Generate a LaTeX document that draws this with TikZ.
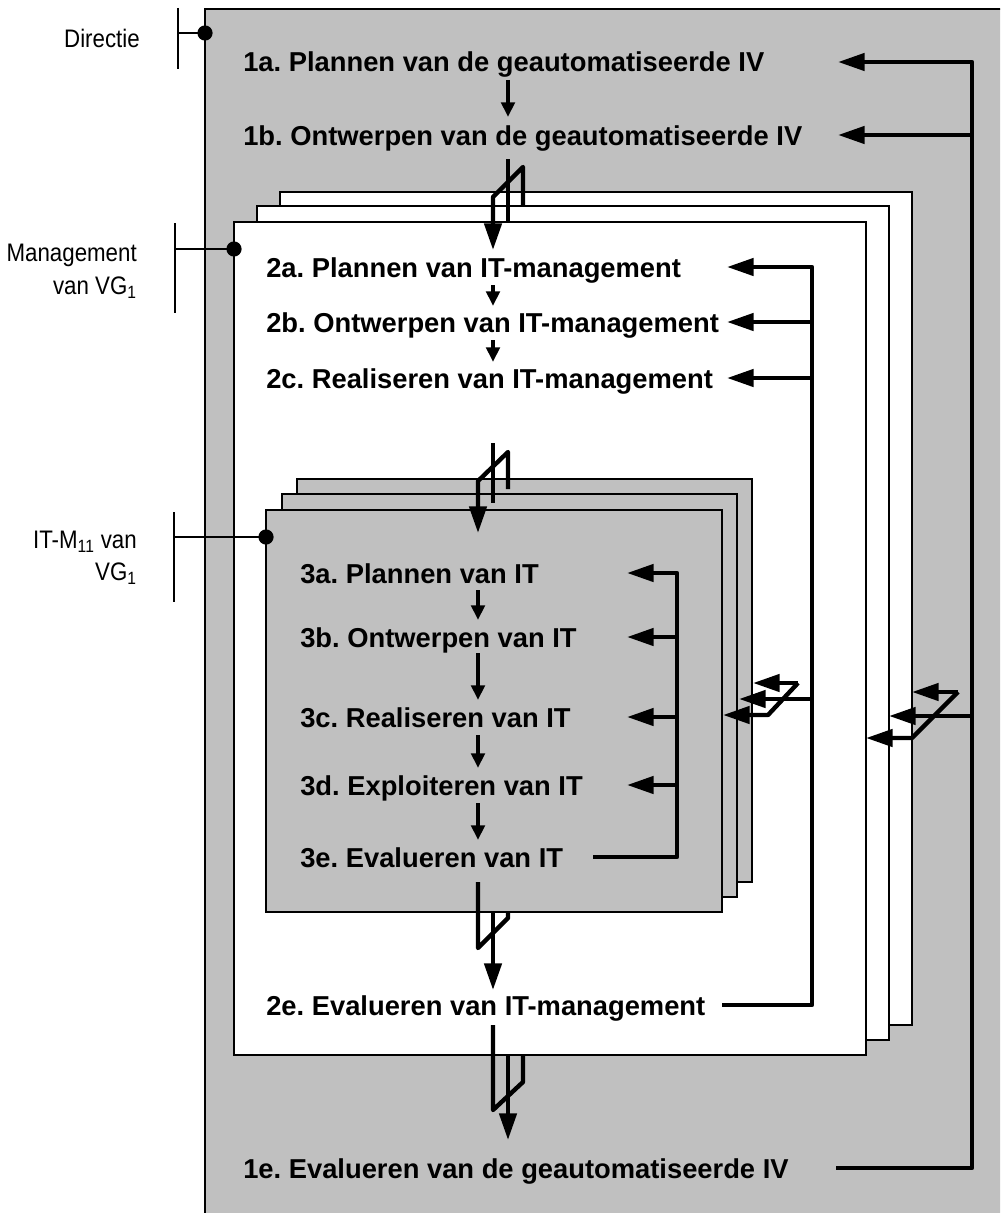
\documentclass[tikz,border=0pt]{standalone}
\usepackage{fontspec}
\setmainfont{Liberation Sans}
\newfontfamily\labelfont[FakeStretch=0.88]{Liberation Sans}
\usetikzlibrary{arrows.meta}
\definecolor{panel}{RGB}{192,192,192}
\tikzset{
  bigtip/.style={-{Triangle[length=20pt,width=12.8pt]}},
  smalltip/.style={-{Triangle[length=11pt,width=10pt]}},
  flow/.style={line width=3.3pt, line join=round, draw=black},
  frame/.style={line width=1.1pt, draw=black},
  bracket/.style={line width=1.2pt, draw=black},
  lbl/.style={font=\labelfont\fontsize{19}{22}\selectfont, anchor=base east, inner sep=0pt, align=right},
  stepA/.style={font=\bfseries\fontsize{20.5}{24}\selectfont, anchor=base west, inner sep=0pt},
}
\begin{document}
\frenchspacing
\begin{tikzpicture}[x=0.75pt,y=-0.75pt]
\clip (0,0) rectangle (1000,1213);
\useasboundingbox (0,0) rectangle (1000,1213);
% outer panel
\filldraw[frame, fill=panel] (205,9) rectangle (1020,1230);
% white stack
\filldraw[frame, fill=white] (280,192) rectangle (912,1025);
\filldraw[frame, fill=white] (257,206) rectangle (889,1040);
\filldraw[frame, fill=white] (234,222) rectangle (866,1055);
% gray stack
\filldraw[frame, fill=panel] (297,479) rectangle (752,882);
\filldraw[frame, fill=panel] (282,494) rectangle (737,897);
\filldraw[frame, fill=panel] (266,510) rectangle (722,912);

% texts level 1
\node[stepA] (t1a) at (243,72) {1a. Plannen van de geautomatiseerde IV};
\node[stepA] (t1b) at (243,145) {1b. Ontwerpen van de geautomatiseerde IV};
\node[stepA] (t1e) at (243,1178) {1e. Evalueren van de geautomatiseerde IV};
% level 2
\node[stepA] (t2a) at (266,277) {2a. Plannen van IT-management};
\node[stepA] (t2b) at (266,332) {2b. Ontwerpen van IT-management};
\node[stepA] (t2c) at (266,388) {2c. Realiseren van IT-management};
\node[stepA] (t2e) at (266,1015) {2e. Evalueren van IT-management};
% level 3
\node[stepA] (t3a) at (300,583) {3a. Plannen van IT};
\node[stepA] (t3b) at (300,647) {3b. Ontwerpen van IT};
\node[stepA] (t3c) at (300,727) {3c. Realiseren van IT};
\node[stepA] (t3d) at (300,795) {3d. Exploiteren van IT};
\node[stepA] (t3e) at (300,867) {3e. Evalueren van IT};

% coordinates
\coordinate (r1top) at (972,62);
\coordinate (r1bot) at (972,1168);
\coordinate (r2top) at (812,267);
\coordinate (r2bot) at (812,1005);
\coordinate (r3top) at (677,573);
\coordinate (r3bot) at (677,857);

% level 1 feedback
\draw[flow,bigtip] (836,1168) -- (r1bot) -- (r1top) -- (838,62);
\draw[flow,bigtip] (972,135) -- (838,135);
\draw[flow,bigtip] (972,716) -- (889,716);
\draw[flow,bigtip] (958,692) -- (912,692);
\draw[flow,bigtip] (958,692) -- (912,738) -- (866,738);

% level 2 feedback
\draw[flow,bigtip] (722,1005) -- (r2bot) -- (r2top) -- (727,267);
\draw[flow,bigtip] (812,322) -- (727,322);
\draw[flow,bigtip] (812,378) -- (727,378);
\draw[flow,bigtip] (812,699) -- (739,699);
\draw[flow,bigtip] (798,683) -- (753,683);
\draw[flow,bigtip] (798,683) -- (768,715) -- (723,715);

% level 3 feedback
\draw[flow,bigtip] (593,857) -- (r3bot) -- (r3top) -- (627,573);
\draw[flow,bigtip] (677,637) -- (627,637);
\draw[flow,bigtip] (677,717) -- (627,717);
\draw[flow,bigtip] (677,785) -- (627,785);

% step arrows
\draw[flow,smalltip] (508,80) -- (508,117);
\draw[flow,smalltip] (493,285) -- (493,306);
\draw[flow,smalltip] (493,340) -- (493,362);
\draw[flow,smalltip] (478,590) -- (478,620);
\draw[flow,smalltip] (478,653) -- (478,700);
\draw[flow,smalltip] (478,735) -- (478,768);
\draw[flow,smalltip] (478,803) -- (478,840);

% split arrows
\draw[flow] (508,159) -- (508,221);
\draw[flow,bigtip] (523,205) -- (523,167) -- (493,197) -- (493,250);
\draw[flow] (493,443) -- (493,503);
\draw[flow,bigtip] (508,489) -- (508,452) -- (478,481) -- (478,533);
\draw[flow,bigtip] (493,912) -- (493,990);
\draw[flow] (478,882) -- (478,948) -- (508,918) -- (508,912);
\draw[flow,bigtip] (508,1055) -- (508,1140);
\draw[flow] (493,1025) -- (493,1110) -- (523,1082) -- (523,1055);

% side labels
\node[lbl] (lDir) at (140,48) {Directie};
\node[lbl] (lMan1) at (137,261) {Management};
\node[lbl] (lMan2) at (137,294) {van VG\textsubscript{1}};
\node[lbl] (lIT1) at (137,548) {IT-M\textsubscript{11} van};
\node[lbl] (lIT2) at (137,580) {VG\textsubscript{1}};

\coordinate (dDir) at (205,33);
\coordinate (dMan) at (234,249);
\coordinate (dIT) at (266,537);
\draw[bracket] (178,8) -- (178,69);
\draw[bracket] (178,33) -- (dDir);
\draw[bracket] (175,223) -- (175,313);
\draw[bracket] (175,249) -- (dMan);
\draw[bracket] (174,512) -- (174,602);
\draw[bracket] (174,537) -- (dIT);
\fill (dDir) circle[radius=5.7pt];
\fill (dMan) circle[radius=5.7pt];
\fill (dIT) circle[radius=5.7pt];
\end{tikzpicture}
\end{document}
